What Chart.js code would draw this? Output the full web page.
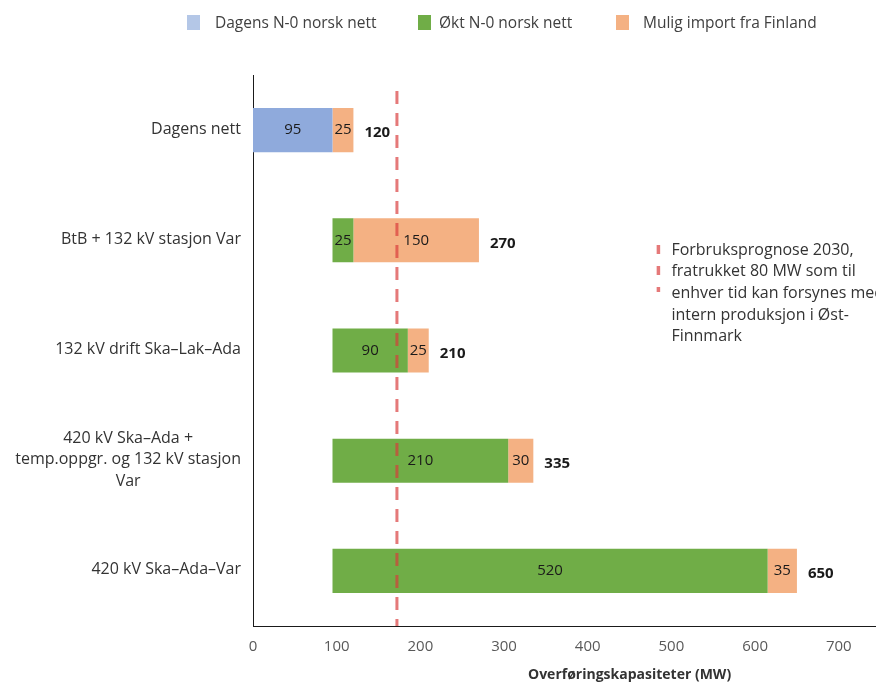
<!DOCTYPE html>
<html>
<head>
<meta charset="utf-8">
<script src="https://cdn.jsdelivr.net/npm/chart.js@4/dist/chart.umd.min.js"></script>
<style>
    html, body { margin: 0; padding: 0; background: #fff; overflow: hidden; }
    #wrap { position: relative; width: 876px; height: 682px; overflow: hidden; }
    #chart { position: absolute; left: 0; top: 0; }
    .lg { position: absolute; top: 12px; font: 15.5px "Open Sans", sans-serif; color: #404040; line-height: 20px; white-space: nowrap; }
    .lg i { position: absolute; top: 3px; width: 13px; height: 15px; }
</style>
</head>
<body>
<div id="wrap">
    <canvas id="chart" width="1031" height="682"></canvas>
    <div class="lg" style="left:187px"><i style="background:#b4c7e7"></i><span style="margin-left:28px">Dagens N-0 norsk nett</span></div>
    <div class="lg" style="left:418px"><i style="background:#70ad47"></i><span style="margin-left:21px">Økt N-0 norsk nett</span></div>
    <div class="lg" style="left:616px"><i style="background:#f4b183"></i><span style="margin-left:27px">Mulig import fra Finland</span></div>
</div>
<script>
// Kategorier og verdier (MW)
const categories = [
    'Dagens nett',
    'BtB + 132 kV stasjon Var',
    '132 kV drift Ska–Lak–Ada',
    ['420 kV Ska–Ada +', 'temp.oppgr. og 132 kV stasjon', 'Var'],
    '420 kV Ska–Ada–Var'
];
const grunnlag = [0, 95, 95, 95, 95];        // usynlig start for stolpene
const dagensNett = [95, 0, 0, 0, 0];
const oktNett = [0, 25, 90, 210, 520];
const importFinland = [25, 150, 25, 30, 35];
const totals = [120, 270, 210, 335, 650];
const prognose = 172;
const xTicks = [0, 100, 200, 300, 400, 500, 600, 700, 800, 900];
const noteLines = [
    'Forbruksprognose 2030,',
    'fratrukket 80 MW som til',
    'enhver tid kan forsynes med',
    'intern produksjon i Øst-',
    'Finnmark'
];

const FONT = '"Open Sans", sans-serif';

// Etiketter, prognoselinje og merknad
const drawExtras = {
    id: 'drawExtras',
    afterDatasetsDraw(chart) {
        const ctx = chart.ctx;
        const area = chart.chartArea;
        ctx.save();

        // verdier inne i stolpene
        ctx.font = '15px ' + FONT;
        ctx.fillStyle = '#1a1a1a';
        ctx.textAlign = 'center';
        ctx.textBaseline = 'middle';
        chart.data.datasets.forEach((ds, i) => {
            if (ds.skipLabel) return;
            chart.getDatasetMeta(i).data.forEach((bar, j) => {
                if (!ds.data[j]) return;
                ctx.fillText(ds.data[j], (bar.x + bar.base) / 2, bar.y);
            });
        });

        // summer
        ctx.font = 'bold 15px ' + FONT;
        ctx.textAlign = 'left';
        const last = chart.getDatasetMeta(chart.data.datasets.length - 1);
        last.data.forEach((bar, j) => {
            ctx.fillText(totals[j], bar.x + 11, bar.y + 3);
        });

        // prognoselinje
        const px = chart.scales.x.getPixelForValue(prognose);
        ctx.strokeStyle = 'rgba(216, 58, 58, 0.68)';
        ctx.lineWidth = 3;
        ctx.setLineDash([13, 9]);
        ctx.beginPath();
        ctx.moveTo(px, area.top + 16);
        ctx.lineTo(px, area.bottom);
        ctx.stroke();

        // merknad
        const nx = chart.scales.x.getPixelForValue(500);
        ctx.beginPath();
        ctx.lineWidth = 3.5;
        ctx.setLineDash([9, 12]);
        ctx.moveTo(nx - 13, 245);
        ctx.lineTo(nx - 13, 292);
        ctx.stroke();
        ctx.setLineDash([]);
        ctx.font = '16px ' + FONT;
        ctx.fillStyle = '#333';
        noteLines.forEach((t, k) => ctx.fillText(t, nx, 250 + k * 21.7));

        ctx.restore();
    },
    afterDraw(chart) {
        // kategorinavn, sentrert per blokk og høyrejustert mot aksen
        const ctx = chart.ctx;
        const sy = chart.scales.y;
        const right = chart.chartArea.left - 12;
        const lh = 21.5;
        ctx.save();
        ctx.font = '16px ' + FONT;
        ctx.fillStyle = '#333';
        ctx.textAlign = 'center';
        ctx.textBaseline = 'middle';
        categories.forEach((c, i) => {
            const lines = Array.isArray(c) ? c : [c];
            const w = Math.max(...lines.map(l => ctx.measureText(l).width));
            const y0 = sy.getPixelForTick(i) - (lines.length - 1) * lh / 2 - 1;
            lines.forEach((l, k) => ctx.fillText(l, right - w / 2, y0 + k * lh));
        });
        ctx.restore();
    }
};

const ctxChart = document.getElementById('chart').getContext('2d');
const chart = new Chart(ctxChart, {
    type: 'bar',
    data: {
        labels: categories,
        datasets: [
            { label: 'grunnlag', data: grunnlag, backgroundColor: 'rgba(0,0,0,0)', skipLabel: true },
            { label: 'Dagens N-0 norsk nett', data: dagensNett, backgroundColor: '#8faadc' },
            { label: 'Økt N-0 norsk nett', data: oktNett, backgroundColor: '#70ad47' },
            { label: 'Mulig import fra Finland', data: importFinland, backgroundColor: '#f4b183' }
        ]
    },
    options: {
        indexAxis: 'y',
        responsive: false,
        animation: false,
        devicePixelRatio: 1,
        layout: { padding: { top: 75, bottom: 0, left: 0, right: 0 } },
        datasets: { bar: { categoryPercentage: 1, barPercentage: 0.4, borderWidth: 0 } },
        plugins: {
            legend: { display: false },
            tooltip: { enabled: false }
        },
        scales: {
            y: {
                stacked: true,
                grid: { display: false, drawTicks: false },
                border: { display: true, color: '#1a1a1a', width: 1 },
                ticks: { display: false },
                afterFit(scale) { scale.width = 253; }
            },
            x: {
                stacked: true,
                min: 0,
                max: 900,
                afterBuildTicks(scale) { scale.ticks = xTicks.map(v => ({ value: v })); },
                grid: { display: false, drawTicks: false },
                border: { display: true, color: '#1a1a1a', width: 1 },
                ticks: { padding: 12, color: '#595959', font: { family: FONT, size: 15 } },
                title: {
                    display: true,
                    text: 'Overføringskapasiteter (MW)',
                    color: '#333',
                    font: { family: FONT, size: 14, weight: 'bold', lineHeight: 1 },
                    padding: { top: 0, bottom: 0 }
                }
            }
        }
    },
    plugins: [drawExtras]
});
</script>
</body>
</html>
